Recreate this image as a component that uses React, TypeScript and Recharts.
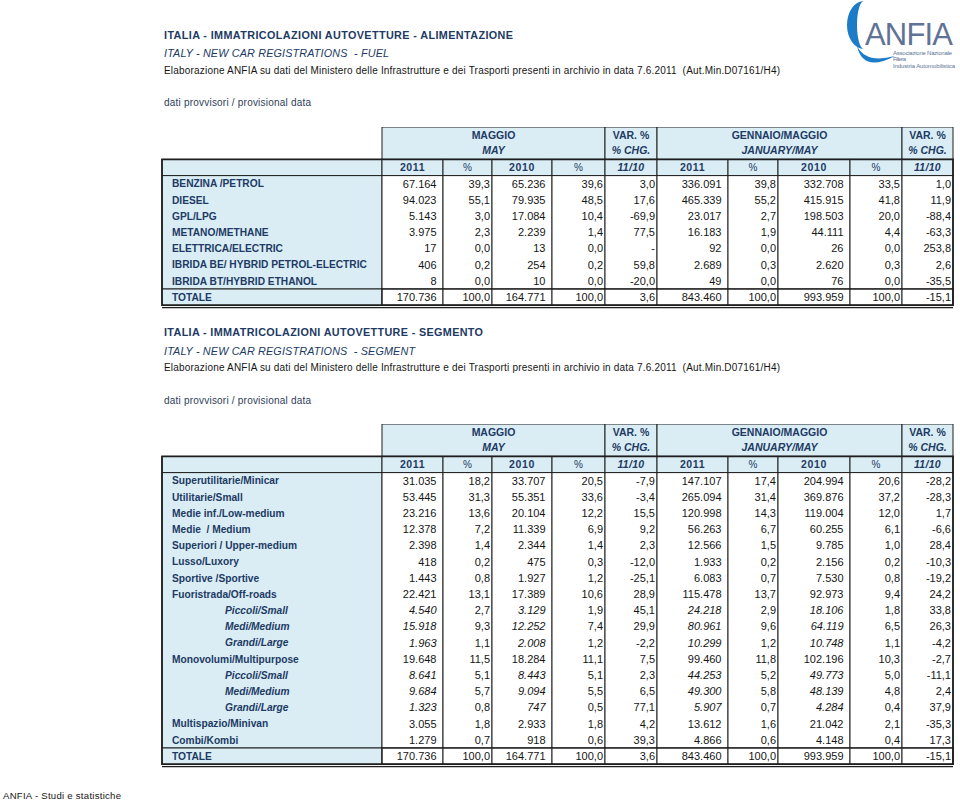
import React from 'react';
import { ComposedChart, XAxis, YAxis, Line, ReferenceArea } from 'recharts';

const FONT = '"Liberation Sans", Arial, Helvetica, sans-serif';
const NAVY = '#213A64';
const FILL = '#DAEDF4';
const RULE = '#1E1E1E';
const INK = '#151515';
const LOGO_BLUE = '#1D7CC8';
const LOGO_GREY = '#5F7396';

// ---------- header texts ----------
const HEAD_GROUPS_IT = ['MAGGIO', 'VAR. %', 'GENNAIO/MAGGIO', 'VAR. %'];
const HEAD_GROUPS_EN = ['MAY', '% CHG.', 'JANUARY/MAY', '% CHG.'];
const HEAD_COLUMNS = ['2011', '%', '2010', '%', '11/10', '2011', '%', '2010', '%', '11/10'];

// ---------- table 1 : fuel ----------
const fuelLabels = [
  'BENZINA /PETROL',
  'DIESEL',
  'GPL/LPG',
  'METANO/METHANE',
  'ELETTRICA/ELECTRIC',
  'IBRIDA BE/ HYBRID PETROL-ELECTRIC',
  'IBRIDA BT/HYBRID ETHANOL',
  'TOTALE',
];
const fuelSub = [false, false, false, false, false, false, false, false];
const fuelMay2011 = [67164, 94023, 5143, 3975, 17, 406, 8, 170736];
const fuelMay2011Pct = [39.3, 55.1, 3.0, 2.3, 0.0, 0.2, 0.0, 100.0];
const fuelMay2010 = [65236, 79935, 17084, 2239, 13, 254, 10, 164771];
const fuelMay2010Pct = [39.6, 48.5, 10.4, 1.4, 0.0, 0.2, 0.0, 100.0];
const fuelMayVar = [3.0, 17.6, -69.9, 77.5, null, 59.8, -20.0, 3.6];
const fuelYtd2011 = [336091, 465339, 23017, 16183, 92, 2689, 49, 843460];
const fuelYtd2011Pct = [39.8, 55.2, 2.7, 1.9, 0.0, 0.3, 0.0, 100.0];
const fuelYtd2010 = [332708, 415915, 198503, 44111, 26, 2620, 76, 993959];
const fuelYtd2010Pct = [33.5, 41.8, 20.0, 4.4, 0.0, 0.3, 0.0, 100.0];
const fuelYtdVar = [1.0, 11.9, -88.4, -63.3, 253.8, 2.6, -35.5, -15.1];

// ---------- table 2 : segment ----------
const segLabels = [
  'Superutilitarie/Minicar',
  'Utilitarie/Small',
  'Medie inf./Low-medium',
  'Medie \u00a0/ Medium',
  'Superiori / Upper-medium',
  'Lusso/Luxory',
  'Sportive /Sportive',
  'Fuoristrada/Off-roads',
  'Piccoli/Small',
  'Medi/Medium',
  'Grandi/Large',
  'Monovolumi/Multipurpose',
  'Piccoli/Small',
  'Medi/Medium',
  'Grandi/Large',
  'Multispazio/Minivan',
  'Combi/Kombi',
  'TOTALE',
];
const segSub = [false, false, false, false, false, false, false, false, true, true, true, false, true, true, true, false, false, false];
const segMay2011 = [31035, 53445, 23216, 12378, 2398, 418, 1443, 22421, 4540, 15918, 1963, 19648, 8641, 9684, 1323, 3055, 1279, 170736];
const segMay2011Pct = [18.2, 31.3, 13.6, 7.2, 1.4, 0.2, 0.8, 13.1, 2.7, 9.3, 1.1, 11.5, 5.1, 5.7, 0.8, 1.8, 0.7, 100.0];
const segMay2010 = [33707, 55351, 20104, 11339, 2344, 475, 1927, 17389, 3129, 12252, 2008, 18284, 8443, 9094, 747, 2933, 918, 164771];
const segMay2010Pct = [20.5, 33.6, 12.2, 6.9, 1.4, 0.3, 1.2, 10.6, 1.9, 7.4, 1.2, 11.1, 5.1, 5.5, 0.5, 1.8, 0.6, 100.0];
const segMayVar = [-7.9, -3.4, 15.5, 9.2, 2.3, -12.0, -25.1, 28.9, 45.1, 29.9, -2.2, 7.5, 2.3, 6.5, 77.1, 4.2, 39.3, 3.6];
const segYtd2011 = [147107, 265094, 120998, 56263, 12566, 1933, 6083, 115478, 24218, 80961, 10299, 99460, 44253, 49300, 5907, 13612, 4866, 843460];
const segYtd2011Pct = [17.4, 31.4, 14.3, 6.7, 1.5, 0.2, 0.7, 13.7, 2.9, 9.6, 1.2, 11.8, 5.2, 5.8, 0.7, 1.6, 0.6, 100.0];
const segYtd2010 = [204994, 369876, 119004, 60255, 9785, 2156, 7530, 92973, 18106, 64119, 10748, 102196, 49773, 48139, 4284, 21042, 4148, 993959];
const segYtd2010Pct = [20.6, 37.2, 12.0, 6.1, 1.0, 0.2, 0.8, 9.4, 1.8, 6.5, 1.1, 10.3, 5.0, 4.8, 0.4, 2.1, 0.4, 100.0];
const segYtdVar = [-28.2, -28.3, 1.7, -6.6, 28.4, -10.3, -19.2, 24.2, 33.8, 26.3, -4.2, -2.7, -11.1, 2.4, 37.9, -35.3, 17.3, -15.1];

// ---------- layout (not data) ----------
const EDGES = [162, 382, 443, 492, 552, 605, 657, 728, 778, 850, 902, 953];
const BAND = 16.2;
const COUNT_COLS = [0, 2, 5, 7];
const VAR_COLS = [4, 9];
const GROUP_SPANS: [number, number][] = [[0, 3], [4, 4], [5, 8], [9, 9]];

type Cell = number | null;
type Row = {
  key: string;
  kind: 'h1a' | 'h1b' | 'h2' | 'body' | 'total';
  label?: string;
  sub?: boolean;
  cells?: string[];
};

const fmtInt = (n: number) => {
  const s = String(Math.round(Math.abs(n))).replace(/\B(?=(\d{3})+(?!\d))/g, '.');
  return (n < 0 ? '-' : '') + s;
};
const fmtDec = (n: Cell) => (n === null ? '-' : n.toFixed(1).replace('.', ','));

function buildRows(labels: string[], subs: boolean[], cols: Cell[][]): Row[] {
  const head: Row[] = [
    { key: 'h1a', kind: 'h1a' },
    { key: 'h1b', kind: 'h1b' },
    { key: 'h2', kind: 'h2' },
  ];
  const body: Row[] = labels.map((label, r) => ({
    key: 'r' + r,
    kind: r === labels.length - 1 ? 'total' : 'body',
    label,
    sub: subs[r],
    cells: cols.map((col, c) => (COUNT_COLS.includes(c) ? fmtInt(col[r] as number) : fmtDec(col[r]))),
  }));
  return [...head, ...body];
}

const fuelRows = buildRows(fuelLabels, fuelSub, [
  fuelMay2011, fuelMay2011Pct, fuelMay2010, fuelMay2010Pct, fuelMayVar,
  fuelYtd2011, fuelYtd2011Pct, fuelYtd2010, fuelYtd2010Pct, fuelYtdVar,
]);
const segRows = buildRows(segLabels, segSub, [
  segMay2011, segMay2011Pct, segMay2010, segMay2010Pct, segMayVar,
  segYtd2011, segYtd2011Pct, segYtd2010, segYtd2010Pct, segYtdVar,
]);

type TextSpec = { text: string; at: number; weight?: string; italic?: boolean; spacing?: number; size?: number };

const boxShape = (fill: string, texts: TextSpec[] = [], strokeW = 1, doubleBottom = false) => (p: any) => {
  const { x, y, width, height } = p;
  return (
    <g>
      <rect x={x} y={y} width={width} height={height} fill={fill} stroke={RULE} strokeWidth={strokeW} />
      {doubleBottom ? (
        <line x1={x} x2={x + width} y1={y + height + 2.4} y2={y + height + 2.4} stroke={RULE} strokeWidth={1.2} />
      ) : null}
      {texts.map((t, i) => (
        <text
          key={i}
          x={x + width / 2}
          y={y + height * t.at + 3.7}
          textAnchor="middle"
          fontFamily={FONT}
          fontSize={t.size ?? 10.5}
          fontWeight={t.weight ?? 'bold'}
          fontStyle={t.italic ? 'italic' : 'normal'}
          letterSpacing={t.spacing ?? 0}
          fill={NAVY}
        >
          {t.text}
        </text>
      ))}
    </g>
  );
};

function headColumnSpec(c: number): TextSpec {
  const text = HEAD_COLUMNS[c];
  if (COUNT_COLS.includes(c)) return { text, at: 0.5, weight: 'bold', spacing: 0.6 };
  if (VAR_COLS.includes(c)) return { text, at: 0.5, weight: 'bold', italic: true, spacing: 0.3 };
  return { text, at: 0.5, weight: 'normal', size: 10 };
}

function DataTable({ top, rows }: { top: number; rows: Row[] }) {
  const n = rows.length;
  const plotH = n * BAND;
  const height = Math.ceil(plotH + 5);
  const bodyRows = rows.filter((r) => r.kind === 'body');
  const firstBody = bodyRows[0].key;
  const lastBody = bodyRows[bodyRows.length - 1].key;
  const totKey = (rows.find((r) => r.kind === 'total') as Row).key;

  return (
    <div style={{ position: 'absolute', left: 0, top, width: 960, height }}>
      <ComposedChart
        layout="vertical"
        width={960}
        height={height}
        data={rows}
        margin={{ top: 0, right: 960 - EDGES[11], bottom: height - plotH, left: EDGES[0] }}
      >
        <XAxis type="number" hide domain={[EDGES[0], EDGES[11]]} />
        <YAxis type="category" dataKey="key" scale="band" hide />

        {/* header row 1: groups */}
        {GROUP_SPANS.map(([s, e], g) => (
          <ReferenceArea
            key={'g' + g}
            x1={EDGES[s + 1]}
            x2={EDGES[e + 2]}
            y1="h1a"
            y2="h1b"
            ifOverflow="visible"
            shape={boxShape(FILL, [
              { text: HEAD_GROUPS_IT[g], at: 0.26, weight: 'bold' },
              { text: HEAD_GROUPS_EN[g], at: 0.73, weight: 'bold', italic: true },
            ])}
          />
        ))}

        {/* header row 2 */}
        {EDGES.slice(0, -1).map((x1, c) => (
          <ReferenceArea
            key={'h' + c}
            x1={x1}
            x2={EDGES[c + 1]}
            y1="h2"
            y2="h2"
            ifOverflow="visible"
            shape={boxShape(FILL, c === 0 ? [] : [headColumnSpec(c - 1)])}
          />
        ))}

        {/* body columns */}
        {EDGES.slice(0, -1).map((x1, c) => (
          <ReferenceArea
            key={'b' + c}
            x1={x1}
            x2={EDGES[c + 1]}
            y1={firstBody}
            y2={lastBody}
            ifOverflow="visible"
            shape={boxShape(c === 0 ? FILL : '#FFFFFF')}
          />
        ))}

        {/* total row */}
        {EDGES.slice(0, -1).map((x1, c) => (
          <ReferenceArea
            key={'t' + c}
            x1={x1}
            x2={EDGES[c + 1]}
            y1={totKey}
            y2={totKey}
            ifOverflow="visible"
            shape={boxShape(c === 0 ? FILL : '#FFFFFF', [], 1, c === 0)}
          />
        ))}
        <ReferenceArea
          x1={EDGES[1]}
          x2={EDGES[11]}
          y1={totKey}
          y2={totKey}
          ifOverflow="visible"
          shape={boxShape('none', [], 1, true)}
        />

        {/* outline */}
        <ReferenceArea
          x1={EDGES[0]}
          x2={EDGES[11]}
          y1="h2"
          y2={totKey}
          ifOverflow="visible"
          shape={boxShape('none', [], 1.7)}
        />

        {/* row labels */}
        <Line
          dataKey={() => EDGES[0]}
          stroke="none"
          isAnimationActive={false}
          activeDot={false}
          legendType="none"
          dot={(p: any) => {
            const row: Row = p.payload;
            if (!row || !row.label) return <g key={'le-' + p.index} />;
            return (
              <text
                key={'l-' + p.index}
                x={p.cx + (row.sub ? 63 : 10)}
                y={p.cy + 3.7}
                fontFamily={FONT}
                fontSize={10.2}
                fontWeight="bold"
                fontStyle={row.sub ? 'italic' : 'normal'}
                fill={NAVY}
              >
                {row.label}
              </text>
            );
          }}
        />

        {/* value columns */}
        {EDGES.slice(2).map((edge, c) => (
          <Line
            key={'v' + c}
            dataKey={() => edge}
            stroke="none"
            isAnimationActive={false}
            activeDot={false}
            legendType="none"
            dot={(p: any) => {
              const row: Row = p.payload;
              if (!row || !row.cells) return <g key={'e' + c + '-' + p.index} />;
              const isCount = COUNT_COLS.includes(c);
              return (
                <text
                  key={'t' + c + '-' + p.index}
                  x={p.cx - (isCount ? 6.5 : 2)}
                  y={p.cy + 3.9}
                  textAnchor="end"
                  fontFamily={FONT}
                  fontSize={11}
                  fontStyle={row.sub && isCount ? 'italic' : 'normal'}
                  fill={INK}
                >
                  {row.cells[c]}
                </text>
              );
            }}
          />
        ))}
      </ComposedChart>
    </div>
  );
}

function PageTexts() {
  const common = { fontFamily: FONT, lengthAdjust: 'spacing' as const };
  return (
    <svg width={960} height={801} style={{ position: 'absolute', left: 0, top: 0, display: 'block' }}>
      {/* logo */}
      <path d="M864 1 A17 24 0 0 0 864 49 A7 24 0 0 1 864 1 Z" fill={LOGO_BLUE} />
      <path d="M857 46 Q863 73 895 56 Q866 64 857 46 Z" fill={LOGO_BLUE} />
      <text x={865} y={45} fontSize={31} fill={LOGO_GREY} textLength={88} {...common}>ANFIA</text>
      <text x={893} y={55.3} fontSize={6} fill={LOGO_GREY} textLength={59} {...common}>Associazione Nazionale</text>
      <text x={893} y={61.3} fontSize={6} fill={LOGO_GREY} textLength={13} {...common}>Filiera</text>
      <text x={893} y={68.3} fontSize={6} fill={LOGO_GREY} textLength={62} {...common}>Industria Automobilistica</text>

      {/* block 1 */}
      <text x={164} y={39} fontSize={10.8} fontWeight="bold" fill={NAVY} textLength={349} {...common}>
        ITALIA - IMMATRICOLAZIONI AUTOVETTURE - ALIMENTAZIONE
      </text>
      <text x={164} y={56.5} fontSize={10.8} fontStyle="italic" fill={NAVY} textLength={225} {...common}>
        {'ITALY - NEW CAR REGISTRATIONS \u00a0- FUEL'}
      </text>
      <text x={164} y={74} fontSize={10} fill={INK} textLength={616} {...common}>
        {'Elaborazione ANFIA su dati del Ministero delle Infrastrutture e dei Trasporti presenti in archivio in data 7.6.2011 \u00a0(Aut.Min.D07161/H4)'}
      </text>
      <text x={164} y={106} fontSize={10} fill="#2E3D57" textLength={147} {...common}>
        dati provvisori / provisional data
      </text>

      {/* block 2 */}
      <text x={164} y={336.3} fontSize={10.8} fontWeight="bold" fill={NAVY} textLength={319} {...common}>
        ITALIA - IMMATRICOLAZIONI AUTOVETTURE - SEGMENTO
      </text>
      <text x={164} y={354.5} fontSize={10.8} fontStyle="italic" fill={NAVY} textLength={251} {...common}>
        {'ITALY - NEW CAR REGISTRATIONS \u00a0- SEGMENT'}
      </text>
      <text x={164} y={370.5} fontSize={10} fill={INK} textLength={616} {...common}>
        {'Elaborazione ANFIA su dati del Ministero delle Infrastrutture e dei Trasporti presenti in archivio in data 7.6.2011 \u00a0(Aut.Min.D07161/H4)'}
      </text>
      <text x={164} y={404} fontSize={10} fill="#2E3D57" textLength={147} {...common}>
        dati provvisori / provisional data
      </text>

      {/* footer */}
      <text x={3} y={799} fontSize={9.6} fill={INK} textLength={118} {...common}>
        ANFIA - Studi e statistiche
      </text>
    </svg>
  );
}

export default function App() {
  return (
    <div
      style={{
        position: 'absolute',
        left: 0,
        top: 0,
        width: 960,
        height: 801,
        background: '#FFFFFF',
        overflow: 'hidden',
        fontFamily: FONT,
      }}
    >
      <PageTexts />
      <DataTable top={127} rows={fuelRows} />
      <DataTable top={424} rows={segRows} />
    </div>
  );
}
